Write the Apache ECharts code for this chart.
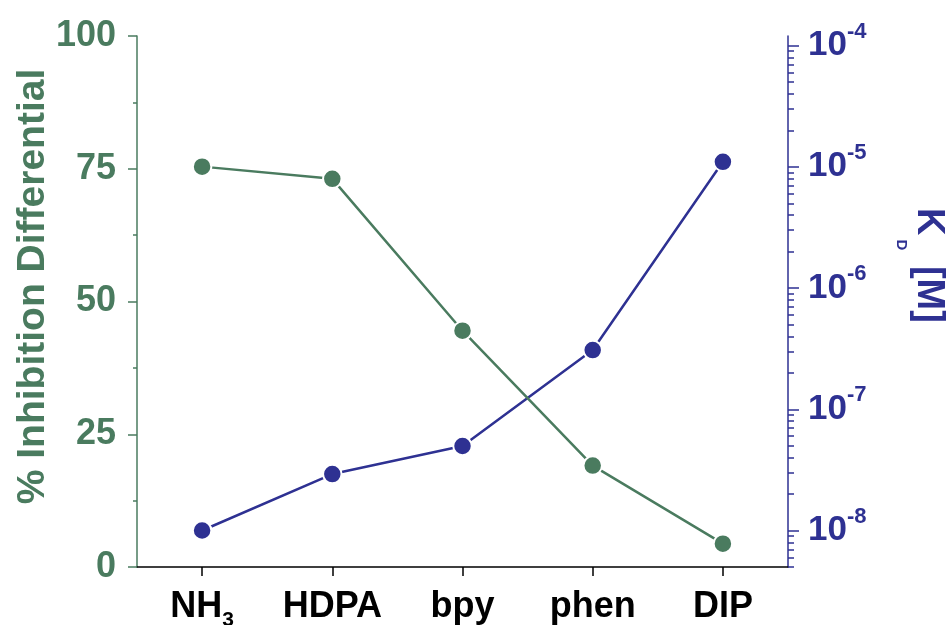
<!DOCTYPE html>
<html>
<head>
<meta charset="utf-8">
<script src="https://cdn.jsdelivr.net/npm/echarts@6/dist/echarts.min.js"></script>
<style>
html,body{margin:0;padding:0;background:#fff;}
#chart{width:951px;height:625px;}
</style>
</head>
<body>
<div id="chart"></div>
<script>
// ---- data ----
var categories = ['NH3', 'HDPA', 'bpy', 'phen', 'DIP'];
var inhibitionDifferential = [75.4, 73.1, 44.5, 19.1, 4.4];   // % (left axis)
var kdValues = [1.0e-8, 2.92e-8, 4.98e-8, 3.08e-7, 1.10e-5];   // M (right axis, log)
var leftTicks = [0, 25, 50, 75, 100];
var rightTickValues = [1e-8, 1e-7, 1e-6, 1e-5, 1e-4];
var rightMin = 5e-9;
var rightMax = 1.2e-4;

var GREEN = '#4a7b5f';
var BLUE = '#2e3192';
var FONT = '"Liberation Sans", Arial, Helvetica, sans-serif';

// minor log ticks (2..9 x 10^n) inside the axis range
var minorTickValues = [];
for (var d = -9; d <= -4; d++) {
  for (var k = 2; k <= 9; k++) {
    var v = k * Math.pow(10, d);
    if (v >= rightMin && v <= rightMax) minorTickValues.push(v);
  }
}

var chart = echarts.init(document.getElementById('chart'), null, {renderer: 'canvas'});

var option = {
  animation: false,
  backgroundColor: '#fff',
  grid: {left: 137, right: 163, top: 36, bottom: 58, containLabel: false, outerBoundsMode: 'none'},
  xAxis: {
    type: 'category',
    data: categories,
    boundaryGap: true,
    axisLine: {show: true, lineStyle: {color: '#000', width: 1.5}},
    axisTick: {show: true, alignWithLabel: true, length: 9, lineStyle: {color: '#000', width: 1.5}},
    axisLabel: {
      margin: 22,
      verticalAlign: 'top',
      formatter: function (v) {
        if (v === 'NH3') return '{m|NH}{s|3}';
        return '{m|' + v + '}';
      },
      rich: {
        m: {fontFamily: FONT, fontWeight: 'bold', fontSize: 36, color: '#000', lineHeight: 36, verticalAlign: 'top'},
        s: {fontFamily: FONT, fontWeight: 'bold', fontSize: 21, color: '#000', lineHeight: 62}
      }
    },
    splitLine: {show: false}
  },
  yAxis: [
    {
      type: 'value',
      position: 'left',
      min: 0,
      max: 100,
      interval: 25,
      name: '% Inhibition Differential',
      nameLocation: 'middle',
      nameRotate: 90,
      nameGap: 84,
      nameMoveOverlap: false,
      nameTextStyle: {fontFamily: FONT, fontWeight: 'bold', fontSize: 39, color: GREEN, padding: [0, 0, 0, 30]},
      axisLine: {show: true, lineStyle: {color: GREEN, width: 1.5}},
      axisTick: {show: true, inside: false, length: 9, lineStyle: {color: GREEN, width: 1.5}},
      minorTick: {show: true, splitNumber: 2, length: 4, lineStyle: {color: GREEN, width: 1.5}},
      axisLabel: {margin: 21, fontFamily: FONT, fontWeight: 'bold', fontSize: 36, color: GREEN,
        customValues: leftTicks},
      splitLine: {show: false}
    },
    {
      type: 'log',
      logBase: 10,
      position: 'right',
      min: rightMin,
      max: rightMax,
      name: '{k|K}{d|D}{k| [M]}',
      nameLocation: 'middle',
      nameRotate: -90,
      nameGap: 67,
      nameTextStyle: {
        padding: [0, 72, 0, 0],
        rich: {
          k: {fontFamily: FONT, fontWeight: 'bold', fontSize: 38, color: BLUE, lineHeight: 38, verticalAlign: 'top'},
          d: {fontFamily: FONT, fontWeight: 'bold', fontSize: 15, color: BLUE, lineHeight: 92, padding: [0, 5, 0, 4]}
        }
      },
      axisLine: {show: true, lineStyle: {color: BLUE, width: 1.5}},
      axisTick: {show: true, inside: false, length: 11, lineStyle: {color: BLUE, width: 1.5}, customValues: rightTickValues},
      axisLabel: {
        margin: 20,
        customValues: rightTickValues,
        formatter: function (v) {
          var e = Math.round(Math.log(v) / Math.LN10);
          return '{m|10}{s|' + e + '}';
        },
        rich: {
          m: {fontFamily: FONT, fontWeight: 'bold', fontSize: 35, color: BLUE, lineHeight: 50},
          s: {fontFamily: FONT, fontWeight: 'bold', fontSize: 22, color: BLUE, lineHeight: 22, verticalAlign: 'top'}
        }
      },
      splitLine: {show: false},
      minorSplitLine: {show: false}
    },
    {
      type: 'log',
      logBase: 10,
      position: 'right',
      min: rightMin,
      max: rightMax,
      axisLine: {show: false},
      axisLabel: {show: false},
      axisTick: {show: true, inside: false, length: 6, lineStyle: {color: BLUE, width: 1.5}, customValues: minorTickValues},
      splitLine: {show: false}
    }
  ],
  series: [
    {
      type: 'line',
      yAxisIndex: 1,
      data: kdValues,
      symbol: 'circle',
      symbolSize: 18.5,
      lineStyle: {color: BLUE, width: 2.5},
      itemStyle: {color: BLUE, borderColor: '#fff', borderWidth: 2},
      z: 3
    },
    {
      type: 'line',
      yAxisIndex: 0,
      data: inhibitionDifferential,
      symbol: 'circle',
      symbolSize: 18.5,
      lineStyle: {color: GREEN, width: 2.5},
      itemStyle: {color: GREEN, borderColor: '#fff', borderWidth: 2},
      z: 4
    }
  ]
};
chart.setOption(option);
</script>
</body>
</html>
